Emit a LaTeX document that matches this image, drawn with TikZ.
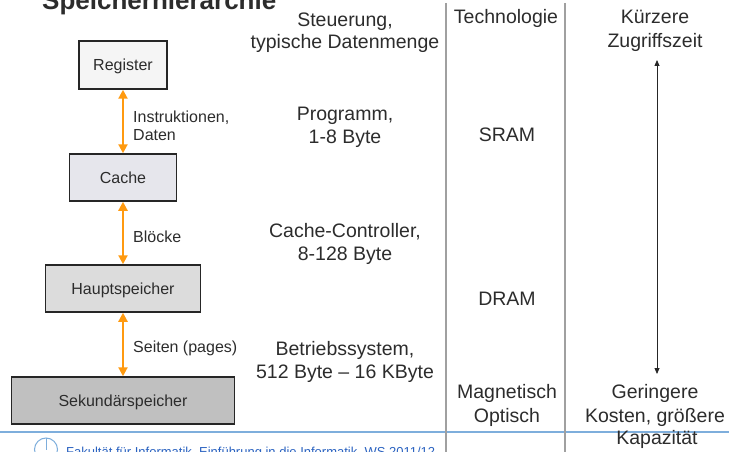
\documentclass[tikz,border=0pt]{standalone}
\usepackage{fontspec}
\setmainfont{Liberation Sans}
\usetikzlibrary{arrows.meta}
\definecolor{txt}{HTML}{2C2C2C}
\definecolor{orangeC}{HTML}{FF9A10}
\definecolor{sepline}{HTML}{A0A0A0}
\definecolor{footblue}{HTML}{7EAEDC}
\definecolor{foottext}{HTML}{2A62C0}
\definecolor{fillA}{HTML}{F5F5F5}
\definecolor{fillB}{HTML}{E6E6EC}
\definecolor{fillC}{HTML}{DCDCDC}
\definecolor{fillD}{HTML}{C0C0C0}
\tikzset{
  col/.style={font=\fontsize{19.5}{23}\selectfont, text=txt, inner sep=0pt, anchor=base},
  levelbox/.style={draw=black!85, line width=1.5pt, text height=11.5pt, text depth=0pt,
    font=\fontsize{16}{18}\selectfont, text=txt, minimum height=47pt},
  lab/.style={font=\fontsize{16}{18}\selectfont, text=txt, inner sep=0pt, anchor=base west},
  link/.style={draw=orangeC, line width=2.2pt,
    {Triangle[width=9pt,length=9pt]}-{Triangle[width=9pt,length=9pt]}},
  trend/.style={draw=black!85, line width=0.8pt,
    {Triangle[width=5pt,length=6pt]}-{Triangle[width=5pt,length=6pt]}},
}
\begin{document}
\begin{tikzpicture}[x=1pt,y=-1pt]
\useasboundingbox (0,0) rectangle (729,452);
\clip (0,0) rectangle (729,452);

% slide title (top edge)
\node[font=\fontsize{26}{30}\selectfont\bfseries, text=txt, inner sep=0pt, anchor=base west]
  (title) at (42,10) {Speicherhierarchie};

% footer rule
\coordinate (fl) at (0,432);
\coordinate (fr) at (729,432);
\draw[footblue, line width=2pt] (fl) -- (fr);

% column separators
\coordinate (s1top) at (446,3);
\coordinate (s1bot) at (446,452);
\coordinate (s2top) at (565,3);
\coordinate (s2bot) at (565,452);
\draw[sepline, line width=1.5pt] (s1top) -- (s1bot);
\draw[sepline, line width=1.5pt] (s2top) -- (s2bot);

% memory levels
\node[levelbox, fill=fillA, minimum width=88pt, minimum height=48pt] (reg) at (123,65) {Register};
\node[levelbox, fill=fillB, minimum width=107pt] (cache) at (123,177.5) {Cache};
\node[levelbox, fill=fillC, minimum width=155pt] (main) at (123,288.5) {Hauptspeicher};
\node[levelbox, fill=fillD, minimum width=223pt] (sec) at (123,400.5) {Sekundärspeicher};

% transfers between levels
\draw[link] (reg) -- (cache);
\draw[link] (cache) -- (main);
\draw[link] (main) -- (sec);

\node[lab] (l1a) at (133,122) {Instruktionen,};
\node[lab] (l1b) at (133,140) {Daten};
\node[lab] (l2) at (133,242) {Blöcke};
\node[lab] (l3) at (133,352) {Seiten (pages)};

% control and typical amount of data
\node[col] (h1a) at (345,27) {Steuerung,};
\node[col] (h1b) at (345,49) {typische Datenmenge};
\node[col] (c1a) at (345,121) {Programm,};
\node[col] (c1b) at (345,143) {1-8 Byte};
\node[col] (c2a) at (345,237) {Cache-Controller,};
\node[col] (c2b) at (345,260) {8-128 Byte};
\node[col] (c3a) at (345,355) {Betriebssystem,};
\node[col] (c3b) at (345,378) {512 Byte – 16 KByte};

% technology
\node[col] (h2) at (506,24) {Technologie};
\node[col] (t1) at (507,142) {SRAM};
\node[col] (t2) at (507,305) {DRAM};
\node[col] (t3a) at (507,398) {Magnetisch};
\node[col] (t3b) at (507,422) {Optisch};

% access time versus cost
\node[col] (r1a) at (655,24) {Kürzere};
\node[col] (r1b) at (655,48) {Zugriffszeit};
\node[col] (r2a) at (655,398) {Geringere};
\node[col] (r2b) at (655,422) {Kosten, größere};
\node[col] (r2c) at (657,444) {Kapazität};
\coordinate (up) at (657,60);
\coordinate (down) at (657,374);
\draw[trend] (up) -- (down);

% footer logo and line
\node[draw=footblue, line width=1pt, circle, minimum size=23pt, inner sep=0pt] (logo) at (46,449.5) {};
\draw[footblue, line width=1pt] (logo.north) -- (logo.center);
\node[font=\fontsize{13}{15}\selectfont, text=foottext, inner sep=0pt, anchor=base west]
  (foot) at (66,456) {Fakultät für Informatik, Einführung in die Informatik, WS 2011/12};
\end{tikzpicture}
\end{document}
